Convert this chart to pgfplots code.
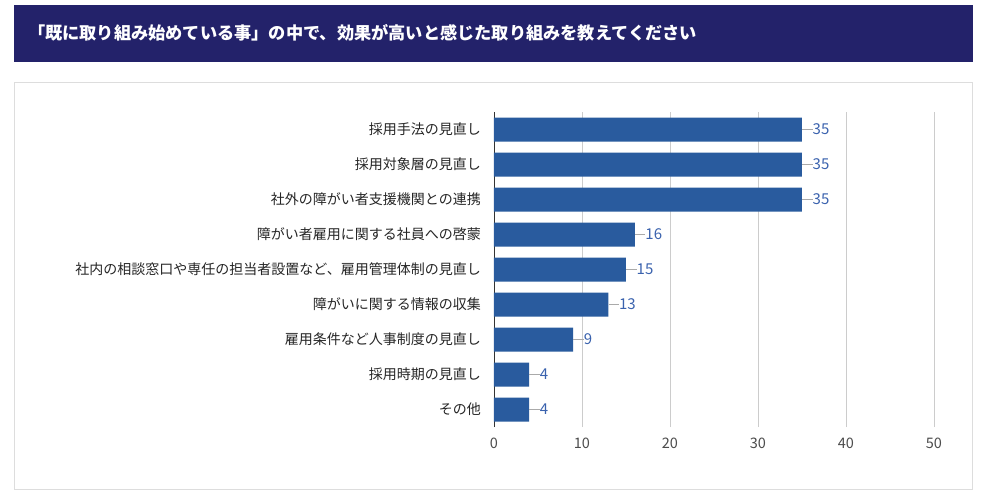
\documentclass[border=0pt]{standalone}
\usepackage{fontspec}
\setmainfont{Noto Sans CJK JP}
\usepackage{pgfplots}
\pgfplotsset{compat=1.18}
\definecolor{navy}{HTML}{23226A}
\definecolor{barc}{HTML}{295B9E}
\definecolor{vlab}{HTML}{3A62AE}
\definecolor{gridc}{HTML}{CCCCCC}
\definecolor{panelc}{HTML}{DDDDDD}
\definecolor{leader}{HTML}{AAAAAA}
\begin{document}
\begin{tikzpicture}
\fill[white] (0pt,0pt) rectangle (991pt,-496pt);
\fill[navy] (14pt,-5pt) rectangle (973pt,-62pt);
\node[anchor=west,text=white,font=\fontsize{17.2}{20}\selectfont\bfseries,inner sep=0] at (28pt,-33pt) {「既に取り組み始めている事」の中で、効果が高いと感じた取り組みを教えてください};
\draw[panelc, line width=1pt] (14.5pt,-82.5pt) rectangle (972.5pt,-489.5pt);
\begin{axis}[
  at={(494pt,-427pt)}, anchor=south west,
  scale only axis, width=440pt, height=315pt,
  xmin=0, xmax=50, ymin=-0.5, ymax=8.5,
  axis x line*=bottom, axis y line*=left,
  x axis line style={draw=none},
  y axis line style={draw=black!80, line width=0.8pt, -},
  xtick={0,10,20,30,40,50},
  xmajorgrids, grid style={gridc, line width=0.8pt},
  xtick style={draw=none}, ytick style={draw=none},
  ytick={0,...,8},
  yticklabels={その他,採用時期の見直し,雇用条件など人事制度の見直し,障がいに関する情報の収集,社内の相談窓口や専任の担当者設置など、雇用管理体制の見直し,障がい者雇用に関する社員への啓蒙,社外の障がい者支援機関との連携,採用対象層の見直し,採用手法の見直し},
  yticklabel style={font=\fontsize{14}{16}\selectfont, text=black!85, inner xsep=0pt, xshift=-13pt},
  xticklabel style={font=\fontsize{14.5}{16}\selectfont, text=black!70, yshift=-7pt},
  /pgf/number format/assume math mode=true,
  clip=false,
]
\addplot[xbar, fill=barc, draw=none, bar width=24pt, point meta=x,
  nodes near coords={\textcolor{leader}{\rule[0.34em]{10.5pt}{0.9pt}}\pgfmathprintnumber{\pgfplotspointmeta}},
  every node near coord/.style={anchor=west, inner sep=0pt, font=\fontsize{15}{16}\selectfont, text=vlab, /pgf/number format/assume math mode=true}
] coordinates {(4,0) (4,1) (9,2) (13,3) (15,4) (16,5) (35,6) (35,7) (35,8)};
\end{axis}
\end{tikzpicture}
\end{document}
